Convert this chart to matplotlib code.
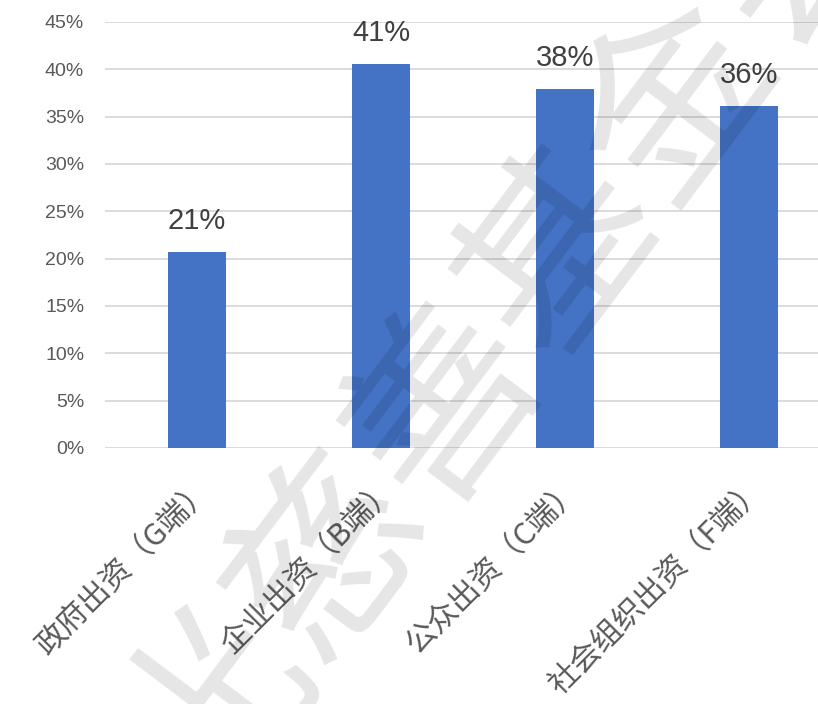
import matplotlib
matplotlib.use('Agg')
import matplotlib.pyplot as plt
from matplotlib.ticker import PercentFormatter, MultipleLocator

categories = ['政府出资（G端）', '企业出资（B端）', '公众出资（C端）', '社会组织出资（F端）']
shares = [0.207, 0.406, 0.379, 0.361]
watermark = '光慈善基金会'

plt.rcParams['font.family'] = ['Liberation Sans', 'Noto Sans CJK SC', 'DejaVu Sans']

W, H = 818, 704
fig = plt.figure(figsize=(W / 100, H / 100), dpi=100)
ax = fig.add_axes([105 / W, 1 - 448 / H, (841 - 105) / W, (448 - 22) / H])

x = list(range(len(categories)))
ax.bar(x, shares, width=0.31, color='#4472C4', zorder=3)

for xi, v in zip(x, shares):
    ax.annotate(f'{v:.0%}', (xi, v), xytext=(0, 16.5), textcoords='offset points',
                ha='center', va='baseline', fontsize=21, color='#404040')

ax.set_xlim(-0.5, 3.5)
ax.set_ylim(0, 0.45)
ax.yaxis.set_major_locator(MultipleLocator(0.05))
ax.yaxis.set_major_formatter(PercentFormatter(1.0, decimals=0))
ax.grid(axis='y', color='#D9D9D9', linewidth=1.3, zorder=0)
for s in ax.spines.values():
    s.set_visible(False)
ax.tick_params(axis='y', length=0, pad=15, labelsize=14, labelcolor='#595959')
ax.tick_params(axis='x', length=0, pad=18)
ax.set_xticks(x)
ax.set_xticklabels(categories, rotation=45, ha='right', va='top', rotation_mode='anchor',
                   fontsize=22, color='#595959', family=['Noto Sans CJK SC', 'DejaVu Sans'])

fig.text(505 / W, 1 - 330 / H, watermark, rotation=53, rotation_mode='anchor',
         ha='center', va='center', fontsize=138, color='black', alpha=0.1,
         fontweight='medium', family=['Noto Sans CJK SC', 'DejaVu Sans'], zorder=10)

fig.savefig('out.png', dpi=100)
